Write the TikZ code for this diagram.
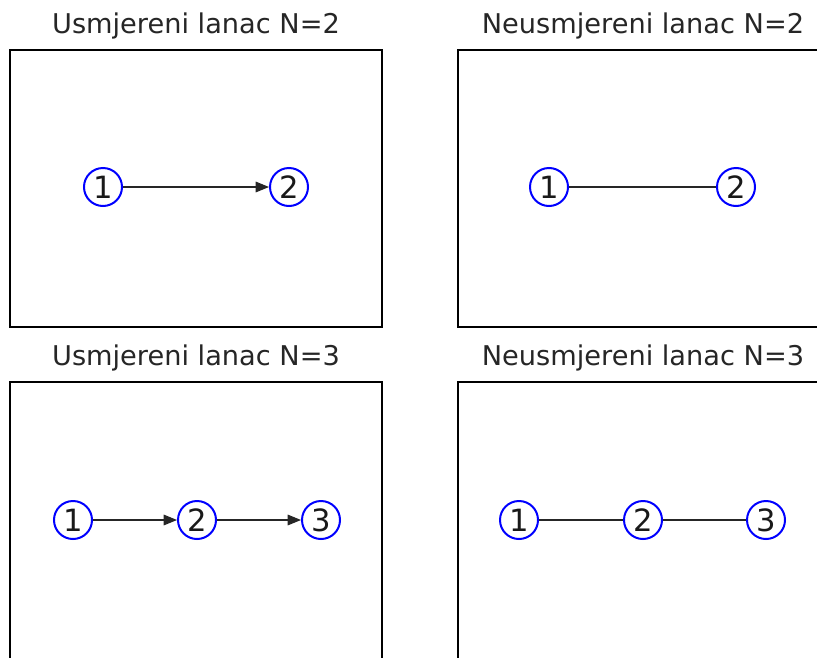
\documentclass[tikz,border=0pt]{standalone}
\usepackage{fontspec}
\setmainfont{DejaVu Sans}
\usetikzlibrary{arrows.meta}
\begin{document}
\begin{tikzpicture}[x=0.75pt,y=-0.75pt,
  vert/.style={circle,draw=blue,line width=1.5pt,minimum size=28.5pt,inner sep=0pt,font=\fontsize{23}{26}\selectfont,text=black!90},
  frame/.style={draw=black,line width=0.9pt},
  ttl/.style={font=\fontsize{20.4}{24}\selectfont,text=black!85},
  dedge/.style={draw=black!85,line width=0.8pt,-{Triangle[length=10pt,width=8pt]}},
  uedge/.style={draw=black!85,line width=0.8pt}]
\clip (0,0) rectangle (817,657);
\fill[white] (0,0) rectangle (817,657);
% frames
\draw[frame] (10,50) rectangle (382,327);
\draw[frame] (458,50) rectangle (830,327);
\draw[frame] (10,382) rectangle (382,660);
\draw[frame] (458,382) rectangle (830,660);
% titles
\node[ttl] (t1) at (196,26) {Usmjereni lanac N=2};
\node[ttl] (t2) at (643,26) {Neusmjereni lanac N=2};
\node[ttl] (t3) at (196,358) {Usmjereni lanac N=3};
\node[ttl] (t4) at (643,358) {Neusmjereni lanac N=3};
% top-left
\node[vert] (a1) at (103,187) {1};
\node[vert] (a2) at (289,187) {2};
\draw[dedge] (a1) -- (a2);
% top-right
\node[vert] (b1) at (549,187) {1};
\node[vert] (b2) at (736,187) {2};
\draw[uedge] (b1) -- (b2);
% bottom-left
\node[vert] (c1) at (73,520) {1};
\node[vert] (c2) at (197,520) {2};
\node[vert] (c3) at (321,520) {3};
\draw[dedge] (c1) -- (c2);
\draw[dedge] (c2) -- (c3);
% bottom-right
\node[vert] (d1) at (519,520) {1};
\node[vert] (d2) at (643,520) {2};
\node[vert] (d3) at (766,520) {3};
\draw[uedge] (d1) -- (d2);
\draw[uedge] (d2) -- (d3);
\end{tikzpicture}
\end{document}
